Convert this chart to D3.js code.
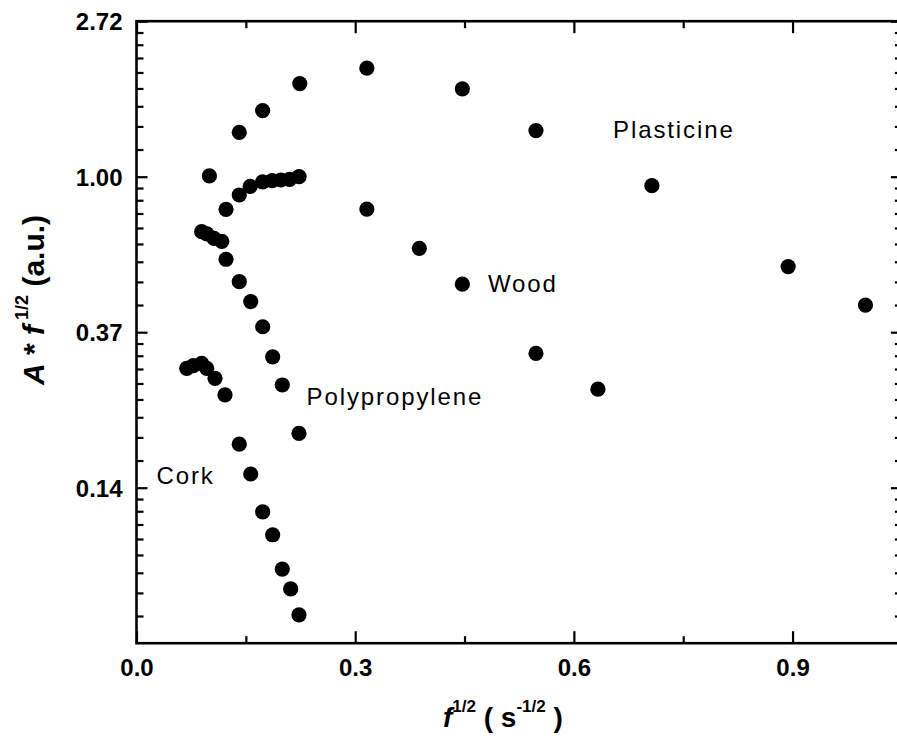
<!DOCTYPE html>
<html><head><meta charset="utf-8">
<script src="https://cdn.jsdelivr.net/npm/d3@7"></script>
<style>
body{margin:0;background:#fff;}
svg{display:block;}
text{font-family:"Liberation Sans",Arial,sans-serif;}
</style></head>
<body>
<svg id="c" width="897" height="736"></svg>
<script>
// ---- data ----
const plasticineX = [0.1, 0.141, 0.173, 0.224, 0.316, 0.447, 0.548, 0.707, 0.894, 1.0];
const plasticineY = [1.005, 1.33, 1.53, 1.82, 2.01, 1.76, 1.345, 0.944, 0.561, 0.438];
const woodX = [0.1228, 0.141, 0.156, 0.173, 0.186, 0.198, 0.21, 0.223, 0.316, 0.388, 0.447, 0.548, 0.633];
const woodY = [0.811, 0.889, 0.94, 0.967, 0.975, 0.979, 0.983, 1.0, 0.812, 0.631, 0.501, 0.321, 0.255];
const polyX = [0.0894, 0.0966, 0.1063, 0.117, 0.1228, 0.141, 0.1567, 0.1731, 0.1868, 0.2, 0.2229];
const polyY = [0.702, 0.692, 0.673, 0.66, 0.588, 0.509, 0.448, 0.381, 0.314, 0.262, 0.192];
const corkX = [0.0689, 0.0779, 0.0894, 0.0963, 0.1077, 0.1214, 0.141, 0.1567, 0.1731, 0.1868, 0.2, 0.2115, 0.2229];
const corkY = [0.2917, 0.2966, 0.301, 0.2917, 0.2735, 0.2457, 0.179, 0.1478, 0.1158, 0.1, 0.0802, 0.0706, 0.0597];

const xTickValues = [0, 0.3, 0.6, 0.9];
const xTickLabels = ["0.0", "0.3", "0.6", "0.9"];
const xMinorValues = [0.15, 0.45, 0.75];
const yTickValues = [0.135335, 0.367879, 1.0, 2.718282];
const yTickLabels = ["0.14", "0.37", "1.00", "2.72"];
const yDomain = [0.049787, 2.718282];
const xDomain = [0, 1.05];

const seriesNames = ["Plasticine", "Wood", "Polypropylene", "Cork"];

// ---- layout ----
const L = 136.5, R = 901.9, T = 21.2, B = 643.2;
const svg = d3.select("#c");
const x = d3.scaleLinear().domain(xDomain).range([L, R]);
const y = d3.scaleLog().base(Math.E).domain(yDomain).range([B, T]);

// minor y ticks: 8 linear subdivisions between successive majors (including bottom)
const yMajAll = [yDomain[0]].concat(yTickValues);
const yMinor = [];
for (let i = 0; i < yMajAll.length - 1; i++) {
  const a = yMajAll[i], b = yMajAll[i + 1];
  for (let k = 1; k < 9; k++) yMinor.push(a + (b - a) * k / 9);
}

const ax = svg.append("g");
function styleAxis(g){
  g.selectAll("path.domain").remove();
  g.selectAll("line").attr("stroke","#000").attr("stroke-width",2.2);
  g.selectAll("text").attr("fill","#000").style("font-family",'"Liberation Sans",Arial,sans-serif');
}
// bottom
ax.append("g").attr("transform",`translate(0,${B})`)
  .call(d3.axisBottom(x).tickValues(xTickValues).tickSize(-12).tickSizeOuter(0).tickPadding(20)
    .tickFormat((d,i)=>xTickLabels[i]))
  .call(styleAxis)
  .call(g=>g.selectAll("text").style("font-size","24px").style("font-weight","bold").attr("dy","0.55em"));
ax.append("g").attr("transform",`translate(0,${B})`)
  .call(d3.axisBottom(x).tickValues(xMinorValues).tickSize(-7).tickFormat("")).call(styleAxis);
// top
ax.append("g").attr("transform",`translate(0,${T})`)
  .call(d3.axisTop(x).tickValues(xTickValues).tickSize(-12).tickFormat("")).call(styleAxis);
ax.append("g").attr("transform",`translate(0,${T})`)
  .call(d3.axisTop(x).tickValues(xMinorValues).tickSize(-7).tickFormat("")).call(styleAxis);
// left
ax.append("g").attr("transform",`translate(${L},0)`)
  .call(d3.axisLeft(y).tickValues(yTickValues).tickSize(-11).tickPadding(14)
    .tickFormat((d,i)=>yTickLabels[i]))
  .call(styleAxis)
  .call(g=>g.selectAll("text").style("font-size","24px").style("font-weight","bold").attr("dy","0.35em"));
ax.append("g").attr("transform",`translate(${L},0)`)
  .call(d3.axisLeft(y).tickValues(yMinor).tickSize(-7).tickFormat("")).call(styleAxis);
// right
ax.append("g").attr("transform",`translate(${R},0)`)
  .call(d3.axisRight(y).tickValues(yTickValues).tickSize(-11).tickFormat("")).call(styleAxis);
ax.append("g").attr("transform",`translate(${R},0)`)
  .call(d3.axisRight(y).tickValues(yMinor).tickSize(-7).tickFormat("")).call(styleAxis);

// frame
svg.append("rect").attr("x",L).attr("y",T).attr("width",R-L).attr("height",B-T)
  .attr("fill","none").attr("stroke","#000").attr("stroke-width",2.6);

// points
const series = [
  [plasticineX, plasticineY],
  [woodX, woodY],
  [polyX, polyY],
  [corkX, corkY]
];
const pts = svg.append("g");
series.forEach(([xs, ys]) => {
  pts.selectAll(null).data(xs.map((v,i)=>[v,ys[i]])).enter().append("circle")
    .attr("cx",d=>x(d[0])).attr("cy",d=>y(d[1])).attr("r",7.6).attr("fill","#000");
});

// series labels
const labelPos = [[613, 138], [488, 291.5], [306.5, 405], [156.5, 484]];
seriesNames.forEach((n,i)=>{
  svg.append("text").attr("x",labelPos[i][0]).attr("y",labelPos[i][1])
    .style("font-size","24px").style("letter-spacing","1.9px").attr("fill","#000").text(n);
});

// x axis title
const xt = svg.append("text").attr("x",443).attr("y",727)
  .style("font-size","28px").style("font-weight","bold").attr("fill","#000");
xt.append("tspan").style("font-style","italic").text("f");
xt.append("tspan").attr("dy",-15).style("font-size","17px").text("1/2");
xt.append("tspan").attr("dy",15).text(" ( s");
xt.append("tspan").attr("dy",-15).style("font-size","17px").text("-1/2");
xt.append("tspan").attr("dy",15).text(" )");

// y axis title
const yt = svg.append("text").attr("transform","translate(44,385) rotate(-90)")
  .style("font-size","30px").style("font-weight","bold").attr("fill","#000");
yt.append("tspan").style("font-style","italic").text("A");
yt.append("tspan").text(" * ");
yt.append("tspan").style("font-style","italic").text("f");
yt.append("tspan").attr("dy",-16).style("font-size","18px").text(" 1/2");
yt.append("tspan").attr("dy",16).text(" (a.u.)");
</script>
</body></html>
